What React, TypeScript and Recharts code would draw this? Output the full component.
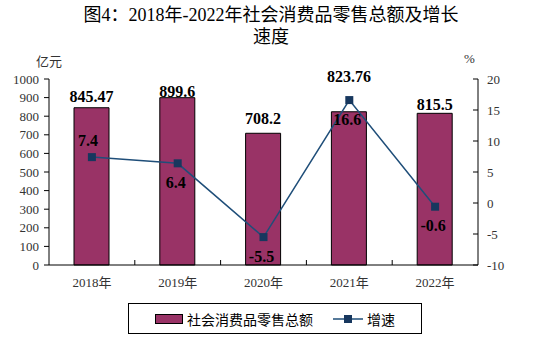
import React from "react";
import {
  Bar,
  ComposedChart,
  LabelList,
  Line,
  XAxis,
  YAxis,
} from "recharts";

const years = ["2018年", "2019年", "2020年", "2021年", "2022年"];
const retailTotal = [845.47, 899.6, 708.2, 823.76, 815.5];
const growthRate = [7.4, 6.4, -5.5, 16.6, -0.6];
const leftTicks = [0, 100, 200, 300, 400, 500, 600, 700, 800, 900, 1000];
const rightTicks = [-10, -5, 0, 5, 10, 15, 20];

// how far each bar label sits above its bar, and where each rate label goes
const barLabelLift = [11, 6, 15, 35, 9];
const rateLabelSide = ["top", "bottom", "bottom", "bottom", "bottom"];

const data = years.map((year, i) => ({
  year,
  total: retailTotal[i],
  rate: growthRate[i],
}));

const SERIF = '"Times New Roman", "Liberation Serif", "Noto Sans CJK SC", serif';
const BAR_COLOR = "#993366";
const LINE_COLOR = "#1F4E79";
const PLOT_W = 429;

function XTick(props: any) {
  const { x, y, payload, index } = props;
  const band = PLOT_W / years.length;
  return (
    <g>
      {index < years.length - 1 && (
        <line x1={x + band / 2} x2={x + band / 2} y1={y} y2={y - 5} stroke="#000" />
      )}
      <text x={x} y={y + 17} textAnchor="middle" dominantBaseline="central" fill="#333" fontSize={13} fontFamily={SERIF}>
        {payload.value}
      </text>
    </g>
  );
}

function RightTick(props: any) {
  const { x, y, payload } = props;
  return (
    <g>
      <line x1={x - 5} x2={x} y1={y} y2={y} stroke="#000" />
      <text x={x + 9} y={y} textAnchor="start" dominantBaseline="central" fill="#333" fontSize={13} fontFamily={SERIF}>
        {payload.value}
      </text>
    </g>
  );
}

function BarValueLabel(props: any) {
  const { x, y, width, value, index } = props;
  return (
    <text
      x={x + width / 2}
      y={y - barLabelLift[index]}
      textAnchor="middle"
      dominantBaseline="central"
      fontSize={16}
      fontWeight="bold"
      fontFamily={SERIF}
      fill="#000"
    >
      {value}
    </text>
  );
}

function RateLabel(props: any) {
  const { x, y, value, index } = props;
  const above = rateLabelSide[index] === "top";
  return (
    <text
      x={above ? x - 4 : x - 2}
      y={above ? y - 17 : y + 19}
      textAnchor="middle"
      dominantBaseline="central"
      fontSize={16}
      fontWeight="bold"
      fontFamily={SERIF}
      fill="#000"
    >
      {value}
    </text>
  );
}

function SquareDot(props: any) {
  const { cx, cy } = props;
  return <rect x={cx - 4} y={cy - 4} width={8} height={8} fill="#17375E" />;
}

export default function App() {
  return (
    <div style={{ position: "absolute", left: 0, top: 0, width: 542, height: 344, background: "#fff", fontFamily: SERIF }}>
      <div
        style={{
          position: "absolute",
          top: 4,
          left: 0,
          width: 542,
          textAlign: "center",
          fontSize: 18,
          lineHeight: "22px",
          color: "#000",
        }}
      >
        图4：2018年-2022年社会消费品零售总额及增长
        <br />
        速度
      </div>
      <div style={{ position: "absolute", left: 36, top: 51, fontSize: 13, color: "#333" }}>亿元</div>
      <div style={{ position: "absolute", left: 464, top: 51, fontSize: 13, color: "#333" }}>%</div>

      <ComposedChart
        width={542}
        height={344}
        data={data}
        margin={{ top: 79, right: 24, bottom: 49, left: 9 }}
      >
        <XAxis
          dataKey="year"
          axisLine={{ stroke: "#000" }}
          tickLine={false}
          tickSize={0}
          tickMargin={0}
          height={30}
          tick={<XTick />}
          interval={0}
        />
        <XAxis xAxisId="top" orientation="top" dataKey="year" height={0} tick={false} tickLine={false} axisLine={{ stroke: "#8c8c8c" }} />
        <YAxis
          yAxisId="left"
          domain={[0, 1000]}
          ticks={leftTicks}
          width={40}
          axisLine={{ stroke: "#000" }}
          tickLine={{ stroke: "#000" }}
          tickSize={5}
          tickMargin={5}
          tick={{ fill: "#333", fontSize: 13, fontFamily: SERIF }}
          interval={0}
        />
        <YAxis
          yAxisId="right"
          orientation="right"
          domain={[-10, 20]}
          ticks={rightTicks}
          width={40}
          axisLine={{ stroke: "#000" }}
          tickLine={false}
          tickSize={0}
          tickMargin={0}
          tick={<RightTick />}
          interval={0}
        />
        <Bar
          yAxisId="left"
          dataKey="total"
          fill={BAR_COLOR}
          stroke="#000"
          strokeWidth={1}
          barSize={35}
          isAnimationActive={false}
        >
          <LabelList dataKey="total" content={<BarValueLabel />} />
        </Bar>
        <Line
          yAxisId="right"
          dataKey="rate"
          stroke={LINE_COLOR}
          strokeWidth={1.5}
          dot={<SquareDot />}
          activeDot={false}
          isAnimationActive={false}
        >
          <LabelList dataKey="rate" content={<RateLabel />} />
        </Line>
      </ComposedChart>

      <div
        style={{
          position: "absolute",
          left: 128,
          top: 303,
          width: 292,
          height: 29,
          border: "1px solid #000",
          display: "flex",
          alignItems: "center",
          fontSize: 14,
          color: "#000",
        }}
      >
        <div style={{ width: 26, height: 8, background: BAR_COLOR, border: "1px solid #000", marginLeft: 26 }} />
        <span style={{ marginLeft: 4 }}>社会消费品零售总额</span>
        <svg width={30} height={10} style={{ marginLeft: 20 }}>
          <line x1={0} x2={30} y1={5} y2={5} stroke={LINE_COLOR} strokeWidth={1.5} />
          <rect x={11} y={1} width={8} height={8} fill="#17375E" />
        </svg>
        <span style={{ marginLeft: 4 }}>增速</span>
      </div>
    </div>
  );
}
